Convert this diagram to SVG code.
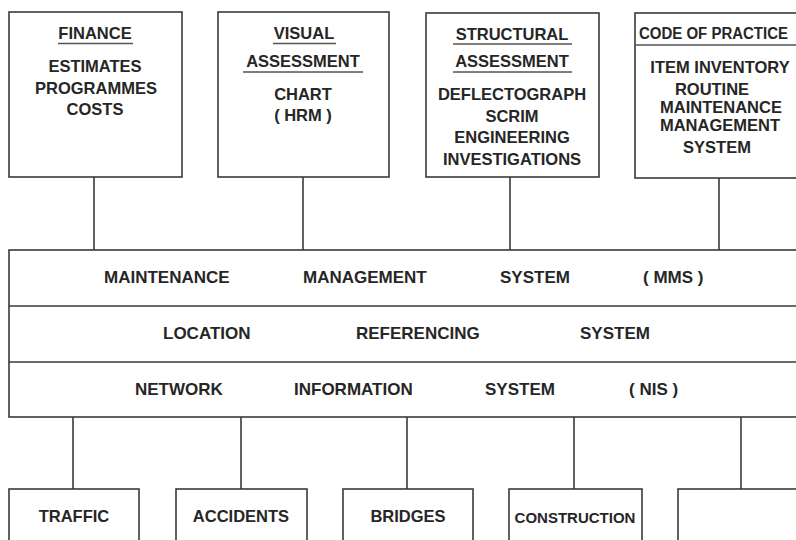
<svg xmlns="http://www.w3.org/2000/svg" width="796" height="540" viewBox="0 0 796 540">
  <style>
    .box { fill: #ffffff; stroke: #3a3a3a; stroke-width: 1.6; }
    .rule { stroke: #3a3a3a; stroke-width: 1.6; fill: none; }
    .uline { stroke: #555555; stroke-width: 1.5; }
    .wire { stroke: #3a3a3a; stroke-width: 1.6; fill: none; }
    text { font-family: "Liberation Sans", Arial, sans-serif; font-weight: bold; fill: #262626; }
    .t { font-size: 16.5px; text-anchor: middle; }
    .band { font-size: 17px; }
    .small { font-size: 15px; text-anchor: middle; }
  </style>
  <rect width="796" height="540" fill="#ffffff"/>

  <!-- connectors between the boxes and the central system band -->
  <g id="connectors">
    <line class="wire" x1="94" y1="177" x2="94" y2="250"/>
    <line class="wire" x1="303" y1="177" x2="303" y2="250"/>
    <line class="wire" x1="510" y1="177" x2="510" y2="250"/>
    <line class="wire" x1="719" y1="178" x2="719" y2="250"/>
    <line class="wire" x1="73" y1="417" x2="73" y2="489"/>
    <line class="wire" x1="241" y1="417" x2="241" y2="489"/>
    <line class="wire" x1="407" y1="417" x2="407" y2="489"/>
    <line class="wire" x1="574" y1="417" x2="574" y2="489"/>
    <line class="wire" x1="741" y1="417" x2="741" y2="489"/>
  </g>

  <g id="finance">
    <rect class="box" x="9" y="12" width="173" height="165"/>
    <text class="t" x="95" y="39">FINANCE</text>
    <line class="uline" x1="58" y1="43.5" x2="133" y2="43.5"/>
    <text class="t" x="95" y="72">ESTIMATES</text>
    <text class="t" x="96" y="94">PROGRAMMES</text>
    <text class="t" x="95" y="115">COSTS</text>
  </g>

  <g id="visual-assessment">
    <rect class="box" x="218" y="12" width="171" height="165"/>
    <text class="t" x="304" y="39">VISUAL</text>
    <line class="uline" x1="273" y1="43.5" x2="336" y2="43.5"/>
    <text class="t" x="303" y="67">ASSESSMENT</text>
    <line class="uline" x1="243" y1="72" x2="363" y2="72"/>
    <text class="t" x="303" y="100">CHART</text>
    <text class="t" x="303" y="121">( HRM )</text>
  </g>

  <g id="structural-assessment">
    <rect class="box" x="426" y="13" width="173" height="164"/>
    <text class="t" x="512" y="40">STRUCTURAL</text>
    <line class="uline" x1="453" y1="44" x2="572" y2="44"/>
    <text class="t" x="512" y="67">ASSESSMENT</text>
    <line class="uline" x1="453" y1="72" x2="572" y2="72"/>
    <text class="t" x="512" y="100">DEFLECTOGRAPH</text>
    <text class="t" x="512" y="122">SCRIM</text>
    <text class="t" x="512" y="143">ENGINEERING</text>
    <text class="t" x="512" y="165">INVESTIGATIONS</text>
  </g>

  <g id="code-of-practice">
    <rect class="box" x="635" y="13" width="180" height="165"/>
    <text x="639" y="39" font-size="16" textLength="149" lengthAdjust="spacingAndGlyphs">CODE OF PRACTICE</text>
    <line class="uline" x1="635" y1="45" x2="796" y2="45"/>
    <text class="t" x="720" y="73">ITEM INVENTORY</text>
    <text class="t" x="712" y="95">ROUTINE</text>
    <text class="t" x="721" y="113">MAINTENANCE</text>
    <text class="t" x="720" y="131">MANAGEMENT</text>
    <text class="t" x="717" y="153">SYSTEM</text>
  </g>

  <!-- three stacked layers of the central system -->
  <g id="system-band">
    <rect class="box" x="9" y="250" width="810" height="167"/>
    <line class="rule" x1="9" y1="306" x2="796" y2="306"/>
    <line class="rule" x1="9" y1="362" x2="796" y2="362"/>
  </g>

  <g id="mms">
    <text class="band" x="104" y="283">MAINTENANCE</text>
    <text class="band" x="303" y="283">MANAGEMENT</text>
    <text class="band" x="500" y="283">SYSTEM</text>
    <text class="band" x="643" y="283">( MMS )</text>
  </g>

  <g id="lrs">
    <text class="band" x="163" y="339">LOCATION</text>
    <text class="band" x="356" y="339">REFERENCING</text>
    <text class="band" x="580" y="339">SYSTEM</text>
  </g>

  <g id="nis">
    <text class="band" x="135" y="395">NETWORK</text>
    <text class="band" x="294" y="395">INFORMATION</text>
    <text class="band" x="485" y="395">SYSTEM</text>
    <text class="band" x="629" y="395">( NIS )</text>
  </g>

  <g id="traffic">
    <rect class="box" x="9" y="489" width="130" height="60"/>
    <text class="t" x="74" y="522">TRAFFIC</text>
  </g>

  <g id="accidents">
    <rect class="box" x="176" y="489" width="131" height="60"/>
    <text class="t" x="241" y="522">ACCIDENTS</text>
  </g>

  <g id="bridges">
    <rect class="box" x="343" y="489" width="130" height="60"/>
    <text class="t" x="408" y="522">BRIDGES</text>
  </g>

  <g id="construction">
    <rect class="box" x="509" y="489" width="133" height="60"/>
    <text class="small" x="575" y="523">CONSTRUCTION</text>
  </g>

  <g id="unlabelled">
    <rect class="box" x="678" y="489" width="140" height="60"/>
  </g>
</svg>
